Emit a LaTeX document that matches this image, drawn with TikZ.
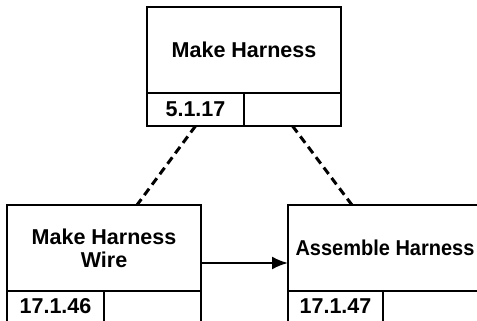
\documentclass[tikz,border=0pt]{standalone}
\usepackage{fontspec}
\setmainfont{Liberation Sans}
\newfontfamily\narrowfont[FakeStretch=0.93]{Liberation Sans}
\usetikzlibrary{arrows.meta}
\newcommand\actfont{\fontsize{21.5}{23}\selectfont\bfseries}

\begin{document}
\begin{tikzpicture}[x=1pt,y=-1pt,
        actbox/.style={draw,line width=2.5pt,minimum width=194pt,minimum height=86pt,inner sep=0pt,outer sep=0pt,align=center,font=\actfont,anchor=north west},
        numbox/.style={draw,line width=2.5pt,minimum width=97pt,minimum height=33pt,inner sep=0pt,outer sep=0pt,font=\actfont,anchor=north west},
        link/.style={line width=3pt,dash pattern=on 8pt off 5pt}]
        \useasboundingbox(0,0)rectangle(477,321);
        \clip(0,0)rectangle(477,321);

        \node[actbox](harness)at(147,7){Make Harness};
        \node[numbox](harnessnum)at(harness.south west){5.1.17};
        \node[numbox](harnessref)at(harnessnum.north east){};

        \node[actbox](wire)at(7,205){Make Harness\\Wire};
        \node[numbox,minimum height=31pt](wirenum)at(wire.south west){17.1.46};
        \node[numbox,minimum height=31pt](wireref)at(wirenum.north east){};

        \node[actbox,font=\narrowfont\actfont](assemble)at(288,205){Assemble Harness};
        \node[numbox,minimum height=31pt,minimum width=95pt](assemblenum)at(assemble.south west){17.1.47};
        \node[numbox,minimum height=31pt](assembleref)at(assemblenum.north east){};

        \draw[link](harnessnum.south)--([xshift=33pt]wire.north);
        \draw[link](harnessref.south)--([xshift=-33pt]assemble.north);
        \draw[-{Latex[length=16pt,width=13pt]},line width=2.2pt]([yshift=-15pt]wire.east)--([yshift=-15pt]assemble.west);
    \end{tikzpicture}
\end{document}
